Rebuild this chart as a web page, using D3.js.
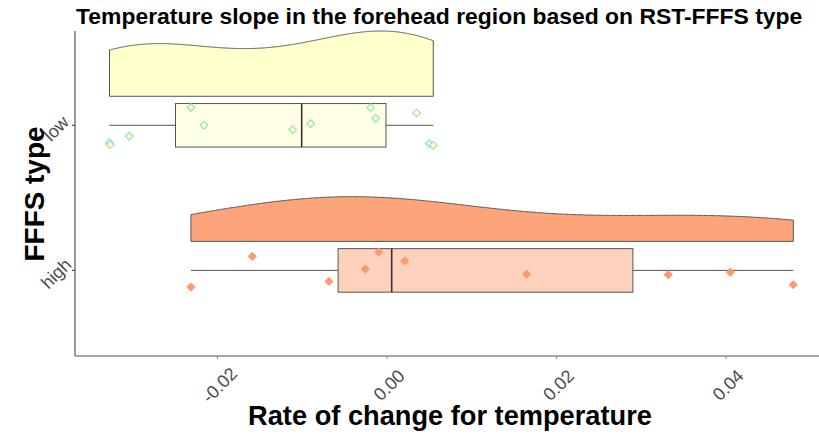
<!DOCTYPE html>
<html><head><meta charset="utf-8">
<script src="https://cdn.jsdelivr.net/npm/d3@7"></script>
<style>body{margin:0;background:#fff}svg{display:block;font-family:"Liberation Sans",Arial,sans-serif}</style>
</head><body><div id="chart"></div>
<script>
const groups = ["high", "low"];
const lowValues = [-0.03274, -0.03267, -0.03041, -0.02313, -0.02160, -0.01113, -0.00900, -0.00192, -0.00133, 0.00350, 0.00499, 0.00546];
const lowJitter = [0.121, 0.134, 0.076, -0.122, 0.0, 0.030, -0.012, -0.122, -0.048, -0.085, 0.126, 0.138];
const highValues = [-0.02313, -0.01589, -0.00684, -0.00256, -0.00098, 0.00209, 0.01648, 0.03319, 0.04051, 0.04794];
const highJitter = [0.115, -0.097, 0.076, -0.009, -0.126, -0.064, 0.026, 0.030, 0.012, 0.099];
const xTicks = [-0.02, 0.00, 0.02, 0.04];
const xTickLabels = ["-0.02", "0.00", "0.02", "0.04"];
const titleText = "Temperature slope in the forehead region based on RST-FFFS type";
const xTitle = "Rate of change for temperature";
const yTitle = "FFFS type";

const W = 819, H = 435;
const svg = d3.select("#chart").append("svg").attr("width", W).attr("height", H);

const x = d3.scaleLinear().domain([-0.03681, 0.05097]).range([75, 819]);
// discrete positions: high = 1, low = 2 (ggplot style)
const y = d3.scaleLinear().domain([0.41, 2.65]).range([356, 31]);
const pos = {high: 1, low: 2};

const data = [
  {g: "low", values: lowValues, jitter: lowJitter, fill: "#FFFFBF", pt: "#FFFFC8", ptStroke: "#84DFC0"},
  {g: "high", values: highValues, jitter: highJitter, fill: "#FC8D59", pt: "#FC9A6E", ptStroke: "#FC9A6E"}
];

function kde(values) {
  const s = values.slice().sort(d3.ascending);
  const n = s.length;
  const sd = d3.deviation(s);
  const iqr = d3.quantileSorted(s, 0.75) - d3.quantileSorted(s, 0.25);
  const bw = 0.9 * Math.min(sd, iqr / 1.34) * Math.pow(n, -0.2);
  const lo = s[0], hi = s[n - 1];
  const pts = d3.range(0, 512).map(i => lo + (hi - lo) * i / 511);
  return pts.map(t => [t, d3.sum(s, v => Math.exp(-0.5 * ((t - v) / bw) ** 2)) / (n * bw * Math.sqrt(2 * Math.PI))]);
}
data.forEach(d => d.dens = kde(d.values));
const maxDens = d3.max(data, d => d3.max(d.dens, p => p[1]));

const violinHalf = 0.45, nudge = 0.2, boxW = 0.3;

data.forEach(d => {
  const p = pos[d.g];
  const base = p + nudge;
  const pathD = d.dens;
  const line = d3.line().x(q => x(q[0])).y(q => y(base + violinHalf * q[1] / maxDens));
  const first = pathD[0], last = pathD[pathD.length - 1];
  const outline = "M" + x(first[0]) + "," + y(base) + "L" + line(pathD).slice(1) + "L" + x(last[0]) + "," + y(base) + "Z";
  svg.append("path").attr("d", outline)
    .attr("fill", d.fill).attr("fill-opacity", 0.8)
    .attr("stroke", "#555").attr("stroke-width", 1);

  // box plot
  const s = d.values.slice().sort(d3.ascending);
  const q1 = d3.quantileSorted(s, 0.25), med = d3.quantileSorted(s, 0.5), q3 = d3.quantileSorted(s, 0.75);
  const iqr = q3 - q1;
  const wLo = d3.min(s.filter(v => v >= q1 - 1.5 * iqr));
  const wHi = d3.max(s.filter(v => v <= q3 + 1.5 * iqr));
  const g = svg.append("g");
  g.append("line").attr("x1", x(wLo)).attr("x2", x(q1)).attr("y1", y(p)).attr("y2", y(p)).attr("stroke", "#555").attr("stroke-width", 1);
  g.append("line").attr("x1", x(q3)).attr("x2", x(wHi)).attr("y1", y(p)).attr("y2", y(p)).attr("stroke", "#555").attr("stroke-width", 1);
  g.append("rect").attr("x", x(q1)).attr("width", x(q3) - x(q1))
    .attr("y", y(p + boxW / 2)).attr("height", y(p - boxW / 2) - y(p + boxW / 2))
    .attr("fill", d.fill).attr("fill-opacity", 0.4).attr("stroke", "#555").attr("stroke-width", 1);
  g.append("line").attr("x1", x(med)).attr("x2", x(med))
    .attr("y1", y(p + boxW / 2)).attr("y2", y(p - boxW / 2)).attr("stroke", "#333").attr("stroke-width", 1.6);

  // points
  const sym = d3.symbol().type(d3.symbolSquare).size(30);
  svg.append("g").selectAll("path").data(d.values.map((v, i) => ({v, j: d.jitter[i]})))
    .join("path")
    .attr("d", sym)
    .attr("transform", q => `translate(${x(q.v)},${y(p - q.j)}) rotate(45)`)
    .attr("fill", d.pt).attr("stroke", d.ptStroke).attr("stroke-width", 1);
});

// axes
svg.append("line").attr("x1", 75).attr("x2", 75).attr("y1", 31).attr("y2", 356).attr("stroke", "#333").attr("stroke-width", 1);
svg.append("line").attr("x1", 75).attr("x2", 819).attr("y1", 356).attr("y2", 356).attr("stroke", "#8a8a8a").attr("stroke-width", 1.5);

const xt = svg.append("g");
xTicks.forEach((t, i) => {
  xt.append("line").attr("x1", x(t)).attr("x2", x(t)).attr("y1", 356).attr("y2", 359).attr("stroke", "#8a8a8a");
  xt.append("text").attr("transform", `translate(${x(t) + 2},${385}) rotate(-45)`)
    .attr("text-anchor", "middle").attr("dy", "0.35em")
    .attr("font-size", 18).attr("fill", "#4D4D4D").text(xTickLabels[i]);
});
groups.forEach(gname => {
  const py = y(pos[gname]);
  svg.append("line").attr("x1", 72).attr("x2", 75).attr("y1", py).attr("y2", py).attr("stroke", "#333");
  svg.append("text").attr("transform", `translate(56,${py + 3}) rotate(-45)`)
    .attr("text-anchor", "middle").attr("dy", "0.35em")
    .attr("font-size", 18).attr("fill", "#4D4D4D").text(gname);
});

// titles
function fit(sel, target) {
  const w = sel.node().getComputedTextLength();
  const fs = parseFloat(sel.attr("font-size"));
  sel.attr("font-size", fs * target / w);
}
const t1 = svg.append("text").attr("x", 76).attr("y", 24).attr("font-size", 20).attr("font-weight", "bold").attr("fill", "#000").text(titleText);
fit(t1, 727);
const t2 = svg.append("text").attr("x", 450).attr("y", 425).attr("text-anchor", "middle").attr("font-size", 27).attr("font-weight", "bold").attr("fill", "#000").text(xTitle);
fit(t2, 404);
const t3 = svg.append("text").attr("transform", "translate(44,194) rotate(-90)").attr("text-anchor", "middle").attr("font-size", 28).attr("font-weight", "bold").attr("fill", "#000").text(yTitle);
fit(t3, 135);
</script></body></html>
